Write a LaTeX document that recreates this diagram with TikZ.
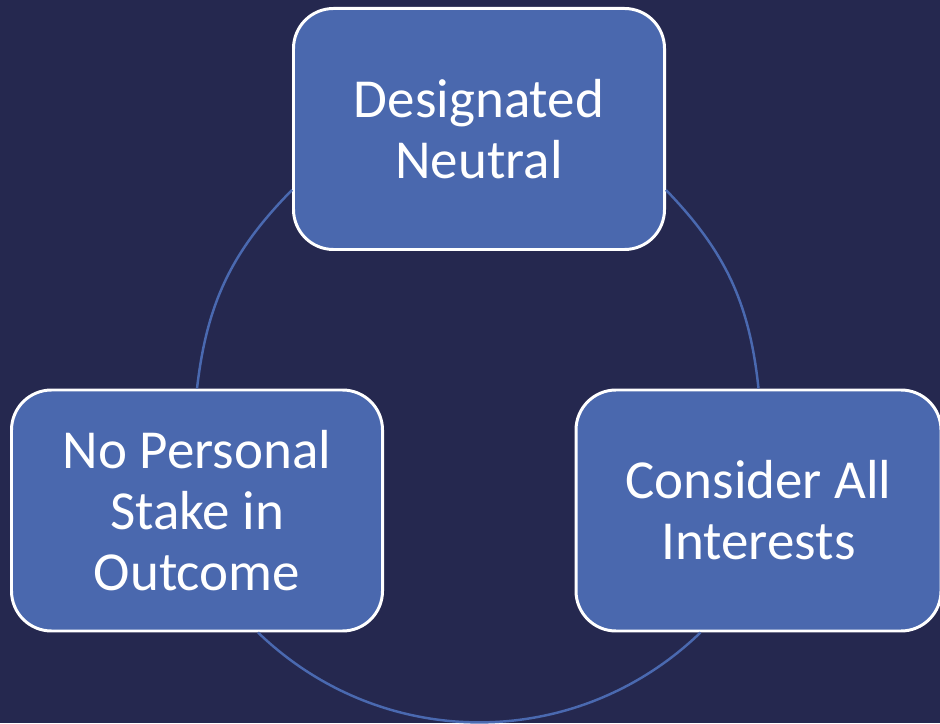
\documentclass[tikz,border=0pt]{standalone}
\usepackage{fontspec}
\setmainfont{Carlito}
\usepackage{tikz}
\usetikzlibrary{positioning, calc}

\definecolor{navy}{HTML}{25284F}
\definecolor{boxblue}{HTML}{4A68AE}
\definecolor{ringblue}{HTML}{4A69B0}

\tikzset{
    stage/.style={draw=white, line width=1.7pt, fill=boxblue, rounded corners=0.8cm,
        minimum width=7.42cm, minimum height=4.82cm, align=center, text=white,
        font=\fontsize{31.3}{34.7}\selectfont},
    ring/.style={draw=ringblue, line width=1.4pt}
}

\begin{document}
\begin{tikzpicture}
\useasboundingbox (0,0) rectangle (18.8,14.46);
\fill[navy] (0,0) rectangle (18.8,14.46);

\node[stage] (top) at (9.58,11.88) {Designated\\Neutral};
\node[stage] (left) at (3.94,4.25) {No Personal\\Stake in\\Outcome};
\node[stage, minimum width=7.3cm] (right) at (15.17,4.25) {Consider All\\Interests};

\coordinate (tl) at ([yshift=-1.22cm]top.west);
\coordinate (tr) at ([yshift=-1.22cm]top.east);
\coordinate (bl) at ([xshift=1.22cm]left.south);
\coordinate (br) at ([xshift=-1.16cm]right.south);

\draw[ring] (tl) to[bend right=19] (left.north);
\draw[ring] (bl) to[bend right=44] (br);
\draw[ring] (right.north) to[bend right=19] (tr);

\end{tikzpicture}
\end{document}
